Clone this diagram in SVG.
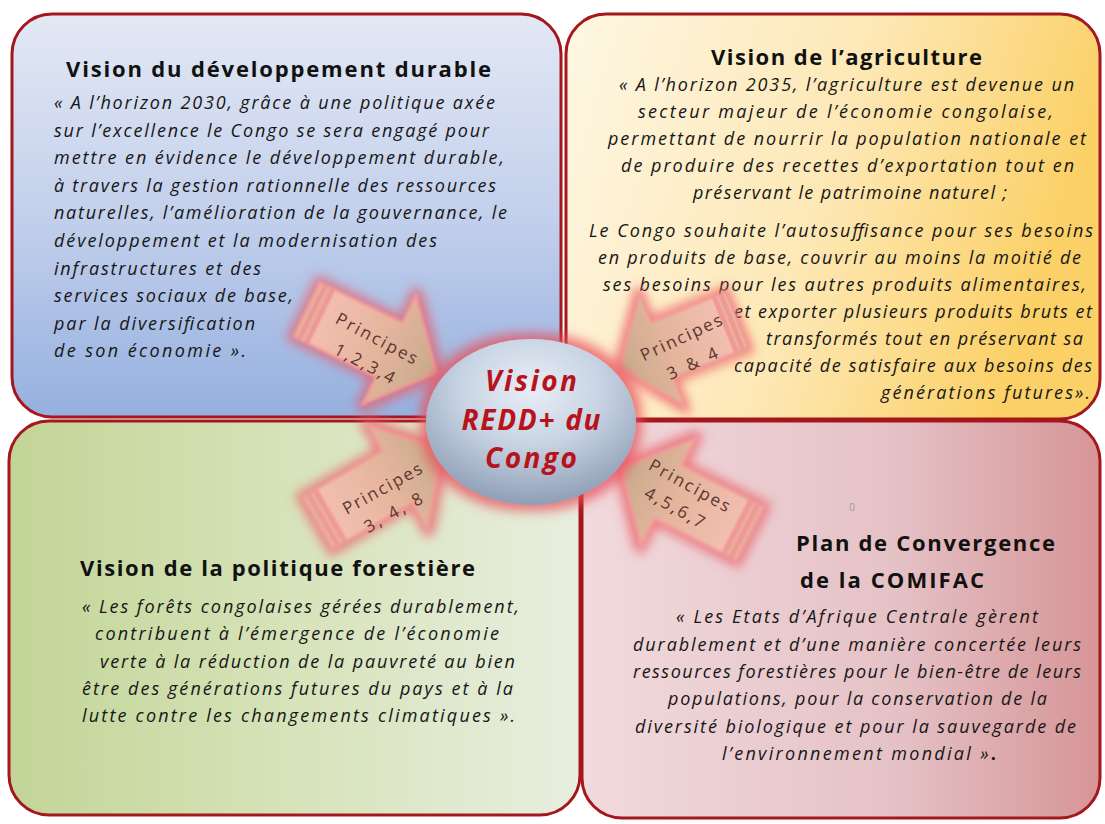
<svg xmlns="http://www.w3.org/2000/svg" width="1105" height="824" viewBox="0 0 1105 824">
  <style>
    .box { stroke: #a5161d; stroke-width: 3; }
    .title { font-family: "Open Sans", Lato, "Liberation Sans", sans-serif; font-weight: bold; font-size: 22px; fill: #111; }
    .quote { font-family: "Open Sans", Lato, "Liberation Sans", sans-serif; font-style: italic; font-size: 18px; fill: #161616; }
    .core { font-family: "Open Sans", Lato, "Liberation Sans", sans-serif; font-style: italic; font-weight: bold; font-size: 28px; fill: #b8121c; text-anchor: middle; }
    .tag { font-family: "Open Sans", Lato, "Liberation Sans", sans-serif; font-size: 17px; fill: #5a3630; text-anchor: middle; }
    .arrow-body { fill: url(#gArrow); stroke: #f29a98; stroke-width: 2.5; }
  </style>
  <defs>
    <linearGradient id="gBlue" x1="0" y1="0" x2="0" y2="1">
      <stop offset="0" stop-color="#e3e8f4"/>
      <stop offset="0.5" stop-color="#c3d0ec"/>
      <stop offset="1" stop-color="#95b0df"/>
    </linearGradient>
    <linearGradient id="gGold" x1="0" y1="0" x2="1" y2="0.25">
      <stop offset="0" stop-color="#fef7e4"/>
      <stop offset="0.55" stop-color="#fde8b6"/>
      <stop offset="1" stop-color="#fbd066"/>
    </linearGradient>
    <linearGradient id="gGreen" x1="0" y1="0" x2="1" y2="0">
      <stop offset="0" stop-color="#c2d597"/>
      <stop offset="0.5" stop-color="#d7e3ba"/>
      <stop offset="1" stop-color="#e8eedf"/>
    </linearGradient>
    <linearGradient id="gRose" x1="0" y1="0" x2="1" y2="0">
      <stop offset="0" stop-color="#f1dadd"/>
      <stop offset="0.6" stop-color="#e5c2c6"/>
      <stop offset="1" stop-color="#d69597"/>
    </linearGradient>
    <radialGradient id="gOrb" cx="0.5" cy="0.3" r="0.75">
      <stop offset="0" stop-color="#e8eef6"/>
      <stop offset="0.45" stop-color="#c8d4e3"/>
      <stop offset="1" stop-color="#8797b0"/>
    </radialGradient>
    <linearGradient id="gArrow" x1="0" y1="0" x2="1" y2="0">
      <stop offset="0" stop-color="#f2bfb0"/>
      <stop offset="0.5" stop-color="#e6b59d"/>
      <stop offset="1" stop-color="#c7ab8b"/>
    </linearGradient>
    <filter id="halo" x="-30%" y="-30%" width="160%" height="160%">
      <feMorphology in="SourceAlpha" operator="dilate" radius="5" result="wide"/>
      <feGaussianBlur in="wide" stdDeviation="5.5" result="soft"/>
      <feFlood flood-color="#ea5a64" flood-opacity="0.7"/>
      <feComposite in2="soft" operator="in" result="glow"/>
      <feGaussianBlur in="SourceGraphic" stdDeviation="0.8" result="shape"/>
      <feMerge>
        <feMergeNode in="glow"/>
        <feMergeNode in="shape"/>
      </feMerge>
    </filter>
    <filter id="orbHalo" x="-30%" y="-30%" width="160%" height="160%">
      <feMorphology in="SourceAlpha" operator="dilate" radius="6" result="wide"/>
      <feGaussianBlur in="wide" stdDeviation="6" result="soft"/>
      <feFlood flood-color="#e8505c" flood-opacity="0.75"/>
      <feComposite in2="soft" operator="in" result="glow"/>
      <feMerge>
        <feMergeNode in="glow"/>
        <feMergeNode in="SourceGraphic"/>
      </feMerge>
    </filter>
    <!-- striped block arrow pointing along +x, centred on the origin -->
    <g id="stripedArrow">
      <rect class="arrow-body" x="-72" y="-30" width="5" height="60"/>
      <rect class="arrow-body" x="-64" y="-30" width="5" height="60"/>
      <path class="arrow-body" d="M -56 -30 L 20 -30 L 20 -60 L 72 0 L 20 60 L 20 30 L -56 30 Z"/>
    </g>
  </defs>

  <!-- quadrant: sustainable development -->
  <g id="dev-durable">
    <rect class="box" x="12" y="14" width="549" height="403" rx="40" fill="url(#gBlue)"/>
    <text class="title" x="66" y="77" textLength="425">Vision du développement durable</text>
    <text class="quote" x="54" y="109" textLength="441">« A l’horizon 2030, grâce à une politique axée</text>
    <text class="quote" x="54" y="136.6" textLength="435">sur l’excellence le Congo se sera engagé pour</text>
    <text class="quote" x="54" y="164.2" textLength="450">mettre en évidence le développement durable,</text>
    <text class="quote" x="54" y="191.8" textLength="442">à travers la gestion rationnelle des ressources</text>
    <text class="quote" x="54" y="219.4" textLength="453">naturelles, l’amélioration de la gouvernance, le</text>
    <text class="quote" x="54" y="247" textLength="383">développement et la modernisation des</text>
    <text class="quote" x="54" y="274.6" textLength="207">infrastructures et des</text>
    <text class="quote" x="54" y="302.2" textLength="239">services sociaux de base,</text>
    <text class="quote" x="54" y="329.8" textLength="201">par la diversification</text>
    <text class="quote" x="54" y="357.4" textLength="192">de son économie ».</text>
  </g>

  <!-- quadrant: agriculture -->
  <g id="agriculture">
    <rect class="box" x="566" y="14" width="534" height="405" rx="40" fill="url(#gGold)"/>
    <text class="title" x="711" y="65" textLength="271">Vision de l’agriculture</text>
    <text class="quote" x="619" y="91" textLength="455">« A l’horizon 2035, l’agriculture est devenue un</text>
    <text class="quote" x="638" y="118" textLength="415">secteur majeur de l’économie congolaise,</text>
    <text class="quote" x="608" y="145" textLength="478">permettant de nourrir la population nationale et</text>
    <text class="quote" x="621" y="172" textLength="453">de produire des recettes d’exportation tout en</text>
    <text class="quote" x="693" y="199" textLength="314">préservant le patrimoine naturel ;</text>
    <text class="quote" x="589" y="237" textLength="504">Le Congo souhaite l’autosuffisance pour ses besoins</text>
    <text class="quote" x="598" y="264" textLength="483">en produits de base, couvrir au moins la moitié de</text>
    <text class="quote" x="603" y="291" textLength="483">ses besoins pour les  autres produits alimentaires,</text>
    <text class="quote" x="734" y="318" textLength="358">et exporter plusieurs produits bruts et</text>
    <text class="quote" x="766" y="345" textLength="317">transformés tout en préservant sa</text>
    <text class="quote" x="734" y="372" textLength="358">capacité de satisfaire aux besoins des</text>
    <text class="quote" x="881" y="399" textLength="209">générations futures».</text>
  </g>

  <!-- quadrant: forest policy -->
  <g id="politique-forestiere">
    <rect class="box" x="9" y="421" width="571" height="394" rx="40" fill="url(#gGreen)"/>
    <text class="title" x="80" y="576" textLength="395">Vision de la politique forestière</text>
    <text class="quote" x="82" y="613" textLength="437">« Les forêts congolaises gérées durablement,</text>
    <text class="quote" x="95" y="640" textLength="404">contribuent à l’émergence de l’économie</text>
    <text class="quote" x="100" y="668" textLength="415">verte à la réduction de la pauvreté au bien</text>
    <text class="quote" x="82" y="695" textLength="431">être des générations futures du pays et à la</text>
    <text class="quote" x="82" y="722" textLength="433">lutte contre les changements climatiques ».</text>
  </g>

  <!-- quadrant: COMIFAC convergence plan -->
  <g id="comifac">
    <rect class="box" x="582" y="421" width="518" height="397" rx="40" fill="url(#gRose)"/>
    <text x="852" y="511" font-family="'Open Sans', 'Liberation Sans', sans-serif" font-size="10" fill="#9a9a9a" text-anchor="middle">0</text>
    <text class="title" x="796" y="551" textLength="259">Plan de Convergence</text>
    <text class="title" x="800" y="588" textLength="184">de la COMIFAC</text>
    <text class="quote" x="676" y="623" textLength="362">« Les Etats d’Afrique Centrale gèrent</text>
    <text class="quote" x="633" y="651" textLength="448">durablement et d’une manière concertée leurs</text>
    <text class="quote" x="633" y="678" textLength="448">ressources forestières pour le bien-être de leurs</text>
    <text class="quote" x="668" y="705" textLength="379">populations, pour la conservation de la</text>
    <text class="quote" x="635" y="733" textLength="441">diversité biologique et pour la sauvegarde de</text>
    <text class="quote" x="722" y="760" textLength="274">l’environnement mondial »<tspan font-weight="bold" font-style="normal">.</tspan></text>
  </g>

  <!-- principle arrows feeding the central vision -->
  <g id="connectors">
    <g id="arrow-dev">
      <use href="#stripedArrow" transform="translate(371.5 341) rotate(26)" filter="url(#halo)"/>
      <text class="tag" transform="translate(377 338) rotate(28)" dominant-baseline="central" textLength="90">Principes</text>
      <text class="tag" transform="translate(365 363) rotate(28)" dominant-baseline="central" textLength="66">1,2,3,4</text>
    </g>
    <g id="arrow-agri">
      <use href="#stripedArrow" transform="translate(678.5 343.5) rotate(158) scale(0.875 1)" filter="url(#halo)"/>
      <text class="tag" transform="translate(681 337) rotate(-25)" dominant-baseline="central" textLength="88">Principes</text>
      <text class="tag" transform="translate(692 363) rotate(-25)" dominant-baseline="central" textLength="54">3 &amp; 4</text>
    </g>
    <g id="arrow-foret">
      <use href="#stripedArrow" transform="translate(380 487) rotate(-30)" filter="url(#halo)"/>
      <text class="tag" transform="translate(382 488) rotate(-29)" dominant-baseline="central" textLength="88">Principes</text>
      <text class="tag" transform="translate(393 512) rotate(-29)" dominant-baseline="central" textLength="64">3, 4, 8</text>
    </g>
    <g id="arrow-comifac">
      <use href="#stripedArrow" transform="translate(686 501) rotate(207)" filter="url(#halo)"/>
      <text class="tag" transform="translate(690 485) rotate(29)" dominant-baseline="central" textLength="90">Principes</text>
      <text class="tag" transform="translate(675 507) rotate(29)" dominant-baseline="central" textLength="66">4,5,6,7</text>
    </g>
  </g>

  <!-- central node -->
  <g id="vision-redd">
    <ellipse cx="531" cy="422" rx="105" ry="83" fill="url(#gOrb)" filter="url(#orbHalo)"/>
    <text class="core" x="531" y="391" textLength="92">Vision</text>
    <text class="core" x="531" y="430" textLength="139">REDD+ du</text>
    <text class="core" x="531" y="468" textLength="92">Congo</text>
  </g>
</svg>
